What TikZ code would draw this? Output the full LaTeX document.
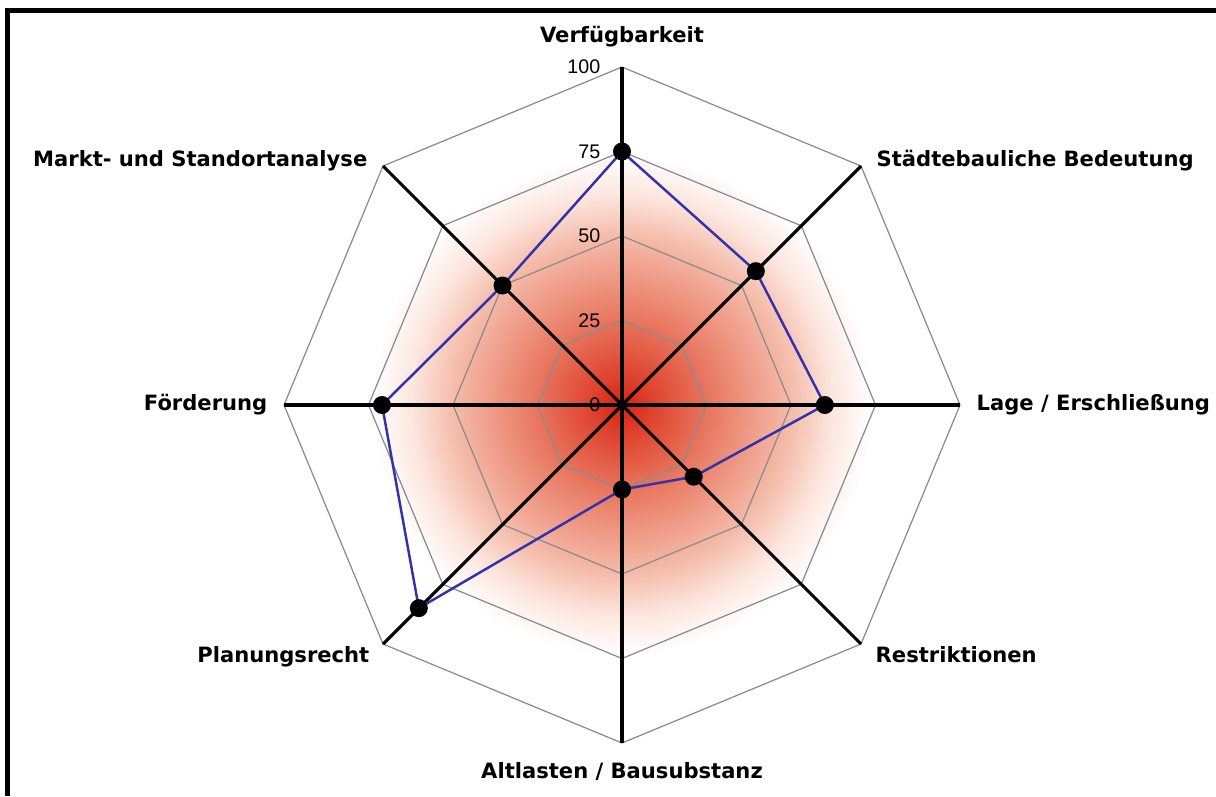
\documentclass[tikz,border=0pt]{standalone}
\usepackage{fontspec}
\setmainfont{Liberation Sans}
\newfontfamily\chartsans{DejaVu Sans}
\usepackage{xcolor}
\usetikzlibrary{positioning}

\definecolor{serieblue}{RGB}{50,50,170}
\definecolor{gridgray}{RGB}{135,140,148}
\newcommand{\labelfont}{\chartsans\bfseries\fontsize{6.0}{7}\selectfont}
\newcommand{\tickfont}{\fontsize{5.6}{6.5}\selectfont}

\pgfdeclareradialshading{redglow}{\pgfpoint{0bp}{0bp}}{%
  rgb(0bp)=(0.85,0.13,0.06);
  rgb(3bp)=(0.87,0.26,0.18);
  rgb(8.5bp)=(0.91,0.46,0.37);
  rgb(17bp)=(0.96,0.74,0.67);
  rgb(21bp)=(0.99,0.90,0.87);
  rgb(25bp)=(1,1,1);
  rgb(50bp)=(1,1,1)}

\begin{document}
\begin{tikzpicture}[
  axisline/.style={line width=0.9pt, draw=black},
  gridline/.style={line width=0.35pt, draw=gridgray},
  serie/.style={line width=0.7pt, draw=serieblue, line join=round},
  marker/.style={circle, fill=black, inner sep=0pt, minimum size=1.8mm},
  axislabel/.style={font=\labelfont, inner sep=0pt},
  ticklabel/.style={font=\tickfont, inner sep=0pt, anchor=east},
]

\useasboundingbox (0,0) rectangle (12.16,7.96);
\fill[white] (0,0) rectangle (12.16,7.96);
\draw[line width=1.4pt] (0.075,0) -- (0.075,7.855) -- (12.16,7.855);

\begin{scope}[shift={(6.22,3.91)}]
% background glow
\shade[shading=redglow] (0,0) circle (2.5);

% grid
\foreach \r in {0.845,1.69,2.535,3.38}
  \draw[gridline] (90:\r) -- (45:\r) -- (0:\r) -- (-45:\r) -- (-90:\r)
    -- (-135:\r) -- (180:\r) -- (135:\r) -- cycle;

% axes
\coordinate (ctr) at (0,0);
\foreach \ang/\nm in {90/verf,45/staedt,0/lage,-45/restr,-90/altl,-135/planr,180/foerd,135/markt}
  \draw[axisline] (ctr) -- (\ang:3.38) coordinate (end-\nm);

\foreach \v in {0,25,50,75,100}
  \node[ticklabel] (tick-\v) at (-0.21,{\v*0.0338}) {\v};

% values
\foreach \ang/\val/\nm in {90/75/verf,45/56/staedt,0/60/lage,-45/30/restr,-90/25/altl,-135/85/planr,180/71/foerd,135/50/markt}
  \coordinate (val-\nm) at (\ang:{\val*0.0338});
\draw[serie] (val-verf) -- (val-staedt) -- (val-lage) -- (val-restr) -- (val-altl)
  -- (val-planr) -- (val-foerd) -- (val-markt) -- cycle;
\foreach \nm in {verf,staedt,lage,restr,altl,planr,foerd,markt}
  \node[marker] (dot-\nm) at (val-\nm) {};
\end{scope}

% axis labels
\node[axislabel, above=1.9mm of end-verf] (lbl-verf) {Verfügbarkeit};
\node[axislabel, anchor=base west, xshift=1.5mm] (lbl-staedt) at (end-staedt) {Städtebauliche Bedeutung};
\node[axislabel, right=1.6mm of end-lage] (lbl-lage) {Lage / Erschließung};
\node[axislabel, anchor=north west, xshift=1.4mm, yshift=-0.2mm] (lbl-restr) at (end-restr) {Restriktionen};
\node[axislabel, below=1.9mm of end-altl] (lbl-altl) {Altlasten / Bausubstanz};
\node[axislabel, anchor=north east, xshift=-1.3mm, yshift=-0.2mm] (lbl-planr) at (end-planr) {Planungsrecht};
\node[axislabel, left=1.6mm of end-foerd] (lbl-foerd) {Förderung};
\node[axislabel, anchor=base east, xshift=-1.5mm] (lbl-markt) at (end-markt) {Markt- und Standortanalyse};

\end{tikzpicture}
\end{document}
